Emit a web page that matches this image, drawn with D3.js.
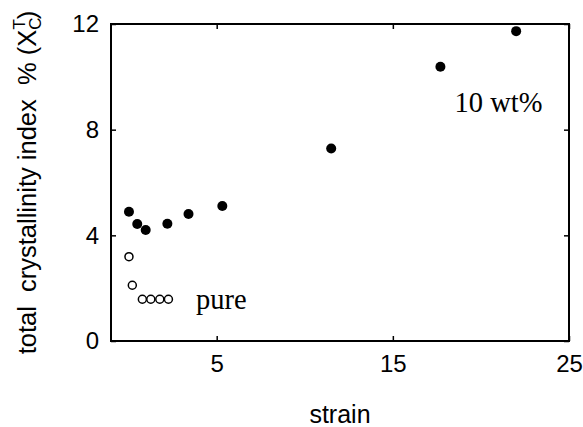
<!DOCTYPE html>
<html>
<head>
<meta charset="utf-8">
<script src="https://cdn.jsdelivr.net/npm/d3@7"></script>
<style>
  body { margin: 0; background: #fff; }
  svg { display: block; }
</style>
</head>
<body>
<svg id="chart" width="583" height="427"></svg>
<script>
// 10 wt% sample (filled)
const filledStrain = [0.02, 0.49, 0.97, 2.2, 3.4, 5.32, 11.5, 17.7, 22.0];
const filledIndex = [4.89, 4.43, 4.2, 4.44, 4.81, 5.11, 7.29, 10.38, 11.73];
// pure sample (open)
const openStrain = [0.02, 0.21, 0.78, 1.26, 1.77, 2.26];
const openIndex = [3.19, 2.11, 1.58, 1.58, 1.58, 1.58];

const xTicks = [5, 15, 25];
const yTicks = [0, 4, 8, 12];

const margin = { top: 24, right: 14, bottom: 86, left: 111 };
const width = 583 - margin.left - margin.right,
  height = 427 - margin.top - margin.bottom;

const svg = d3.select('#chart');
const chart = svg.append('g')
  .attr('transform', 'translate(' + margin.left + ',' + margin.top + ')');

const x = d3.scaleLinear().domain([-1, 25]).range([0, width]);
const y = d3.scaleLinear().domain([0, 12]).range([height, 0]);

const sans = 'Liberation Sans, Arial, sans-serif';
const serif = 'Liberation Serif, Times New Roman, serif';

function styleAxis(g) {
  g.select('.domain').remove();
  g.selectAll('line').attr('stroke', '#000').attr('stroke-width', 1.5);
  g.selectAll('text').attr('fill', '#000').style('font-family', sans).style('font-size', '24px');
}

chart.append('g')
  .attr('transform', 'translate(0,' + height + ')')
  .call(d3.axisBottom(x).tickValues(xTicks).tickSizeInner(-5).tickSizeOuter(0).tickPadding(14))
  .call(styleAxis);

chart.append('g')
  .call(d3.axisLeft(y).tickValues(yTicks).tickSizeInner(-5).tickSizeOuter(0).tickPadding(12))
  .call(styleAxis);

chart.append('g')
  .call(d3.axisTop(x).tickValues(xTicks).tickSizeInner(-5).tickSizeOuter(0).tickFormat(''))
  .call(styleAxis);

chart.append('g')
  .attr('transform', 'translate(' + width + ',0)')
  .call(d3.axisRight(y).tickValues(yTicks).tickSizeInner(-5).tickSizeOuter(0).tickFormat(''))
  .call(styleAxis);

chart.append('rect')
  .attr('x', 0).attr('y', 0)
  .attr('width', width).attr('height', height)
  .attr('fill', 'none')
  .attr('stroke', '#000')
  .attr('stroke-width', 2);

chart.selectAll('.filled')
  .data(filledStrain)
  .enter().append('circle')
  .attr('class', 'filled')
  .attr('r', 5)
  .attr('cx', d => x(d))
  .attr('cy', (d, i) => y(filledIndex[i]))
  .attr('fill', '#000');

chart.selectAll('.open')
  .data(openStrain)
  .enter().append('circle')
  .attr('class', 'open')
  .attr('r', 4)
  .attr('cx', d => x(d))
  .attr('cy', (d, i) => y(openIndex[i]))
  .attr('fill', '#fff')
  .attr('stroke', '#000')
  .attr('stroke-width', 1.5);

chart.append('text')
  .attr('x', x(18.5))
  .attr('y', y(8.67))
  .style('font-family', serif)
  .style('font-size', '28.5px')
  .text('10 wt%');

chart.append('text')
  .attr('x', x(3.83))
  .attr('y', y(1.21))
  .style('font-family', serif)
  .style('font-size', '28.5px')
  .text('pure');

// axis titles
chart.append('text')
  .attr('x', width / 2)
  .attr('y', height + 82)
  .style('font-family', sans)
  .style('font-size', '25px')
  .style('text-anchor', 'middle')
  .text('strain');

const ylab = svg.append('text')
  .attr('transform', 'translate(36,' + (margin.top + height / 2) + ') rotate(-90)')
  .style('font-family', sans)
  .style('font-size', '25.5px')
  .style('text-anchor', 'middle')
  .attr('xml:space', 'preserve');
ylab.append('tspan').text('total  crystallinity index  % (X');
ylab.append('tspan').attr('dy', 5).style('font-size', '17px').text('C');
ylab.append('tspan').attr('dx', -12).attr('dy', -16).style('font-size', '17px').text('T');
ylab.append('tspan').attr('dy', 11).text(')');
</script>
</body>
</html>
